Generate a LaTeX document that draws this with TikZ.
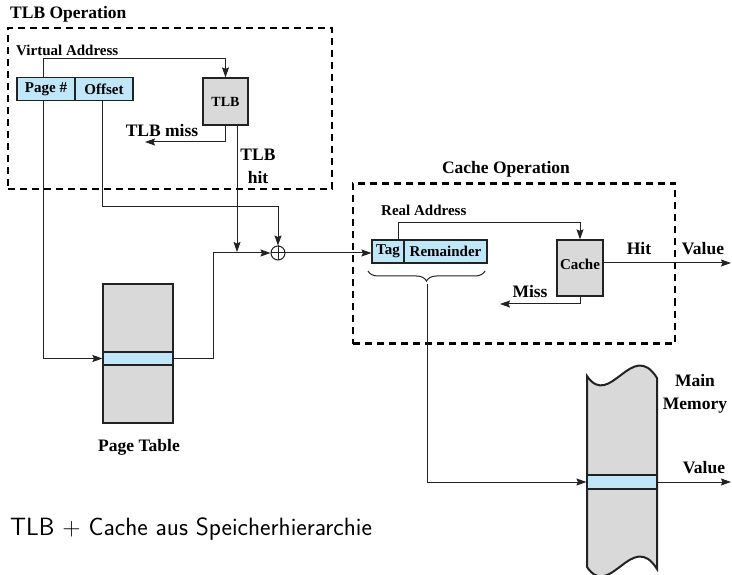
\documentclass[tikz,border=0pt]{standalone}
\usepackage{fontspec}
\setmainfont{Liberation Serif}
\usetikzlibrary{arrows.meta,decorations.pathreplacing}
\definecolor{fieldblue}{HTML}{BFE7F8}
\definecolor{boxgray}{HTML}{D9D9D9}
\definecolor{edge}{HTML}{222222}
\begin{document}
\begin{tikzpicture}[x=1pt,y=-1pt,
  arr/.style={draw=edge,line width=1pt,-{Stealth[length=10pt,width=7pt,inset=1.5pt]}},
  lbl/.style={font=\fontsize{17.5}{23}\selectfont\bfseries,inner sep=0pt,text=black},
  small/.style={font=\fontsize{15}{18}\selectfont\bfseries,inner sep=0pt,text=black},
  field/.style={draw=edge,line width=1.1pt,fill=fieldblue,inner sep=0pt,minimum height=23pt,
    font=\fontsize{15}{18}\selectfont\bfseries},
  graybox/.style={draw=edge,line width=1.2pt,fill=boxgray,inner sep=0pt,
    font=\fontsize{15}{18}\selectfont\bfseries},
  dashbox/.style={draw=black,line width=2.2pt,dash pattern=on 7pt off 5pt,inner sep=0pt}
]
\useasboundingbox (0,0) rectangle (732,575);

% ---------- TLB operation ----------
\node[lbl,anchor=west] (tlbtitle) at (10,14) {TLB Operation};
\node[dashbox,minimum width=324pt,minimum height=161pt] (tlbop) at (170,108.5) {};
\node[small,anchor=west] (va) at (16,50) {Virtual Address};
\node[field,minimum width=58pt] (pg) at (46,89) {Page \#};
\node[field,minimum width=58pt] (off) at (104,89) {Offset};
\node[graybox,minimum width=45pt,minimum height=47pt,font=\fontsize{14}{16}\selectfont\bfseries] (tlb) at (225.5,101.5) {TLB};
\coordinate (tlbmissend) at (145,142);
\node[lbl] (tlbmiss) at (162,131) {TLB miss};
\node[lbl,align=center] (tlbhit) at (258,166) {TLB\\hit};

\draw[arr] ([xshift=-3pt]pg.north) -- ++(0,-18) -| (tlb.north);
\draw[arr] (tlb.south) |- (tlbmissend);

% ---------- adder ----------
\node[circle,draw=edge,line width=1pt,minimum size=14pt,inner sep=0pt] (oplus) at (278,253) {};
\draw[edge,line width=1pt] (oplus.north) -- (oplus.south) (oplus.west) -- (oplus.east);
\coordinate (hitj) at (237,252);
\draw[arr] ([xshift=11.5pt]tlb.south) -- (hitj);
\draw[arr] ([xshift=-2pt]off.south) -- ++(0,105) -| (oplus.north);

% ---------- page table ----------
\node[draw=edge,line width=2.2pt,fill=boxgray,minimum width=70pt,minimum height=139pt,inner sep=0pt] (pt) at (138,353.5) {};
\node[draw=edge,line width=1.1pt,fill=fieldblue,minimum width=70pt,minimum height=13pt,inner sep=0pt] (ptband) at (138,358.5) {};
\node[lbl] (ptlabel) at (139,447) {Page Table};
\draw[arr] ([xshift=-3pt]pg.south) |- (ptband.west);
\draw[arr] (ptband.east) -- ++(40,0) |- (oplus.west);

% ---------- cache operation ----------
\node[lbl] (cachetitle) at (506,169) {Cache Operation};
\node[dashbox,minimum width=322pt,minimum height=160pt] (cacheop) at (514,263.5) {};
\node[small,anchor=west] (ra) at (381,210) {Real Address};
\node[field,minimum width=32pt] (tag) at (388,251.5) {Tag};
\node[field,minimum width=83pt] (rem) at (445.5,251.5) {Remainder};
\draw[arr] (oplus.east) -- (oplus.east -| tag.west);
\node[graybox,minimum width=46pt,minimum height=56pt] (cache) at (580,268) {};
\node[inner sep=0pt,font=\fontsize{15}{18}\selectfont\bfseries] (cachetxt) at (580,264) {Cache};
\draw[arr] ([xshift=10pt]tag.north) -- ++(0,-17) -| (cache.north);
\coordinate (hitend) at (731,263);
\coordinate (missend) at (500,304);
\draw[arr] (cache.east |- hitend) -- (hitend);
\draw[arr] (cache.south) |- (missend);
\node[lbl] (hit) at (639,249) {Hit};
\node[lbl] (value1) at (703,249) {Value};
\node[lbl] (miss) at (530,292) {Miss};

% brace
\coordinate (brR) at (485,271);
\coordinate (brL) at (368,271);
\coordinate (brtip) at (427,284);
\draw[edge,line width=1pt,decorate,decoration={brace,amplitude=10pt}] (brR) -- (brL);

% ---------- main memory ----------
\path[draw=edge,line width=2pt,fill=boxgray]
  (587,376) .. controls (610,410) and (632,338) .. (657,378)
  -- (657,569) .. controls (632,529) and (610,601) .. (587,567) -- cycle;
\node[draw=edge,line width=1.1pt,fill=fieldblue,minimum width=70pt,minimum height=14pt,inner sep=0pt] (memband) at (622,482) {};
\node[lbl,align=center] (mmlabel) at (695,394) {Main\\Memory};
\draw[arr] (brtip) |- (memband.west);
\coordinate (value2end) at (731,482);
\draw[arr] (memband.east) -- (value2end);
\node[lbl] (value2) at (704,468) {Value};

% ---------- caption ----------
\node[anchor=base west,inner sep=0pt,font=\sffamily\fontsize{25}{30}\selectfont] (caption) at (10,535) {TLB + Cache aus Speicherhierarchie};
\end{tikzpicture}
\end{document}
